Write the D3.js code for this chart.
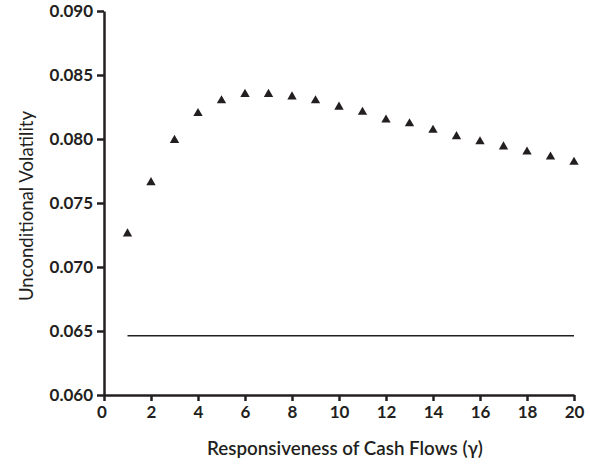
<!DOCTYPE html>
<html>
<head>
<meta charset="utf-8">
<script src="https://cdn.jsdelivr.net/npm/d3@7"></script>
<style>
  body { margin: 0; background: #fff; }
  svg { display: block; }
</style>
</head>
<body>
<svg id="chart" width="590" height="464"></svg>
<script>
// Responsiveness of cash flows (gamma)
var gammas = [1, 2, 3, 4, 5, 6, 7, 8, 9, 10, 11, 12, 13, 14, 15, 16, 17, 18, 19, 20];
// Unconditional volatility, triangles
var volatility = [0.0726, 0.0766, 0.0799, 0.0820, 0.0830, 0.0835, 0.0835, 0.0833, 0.0830, 0.0825,
                  0.0821, 0.0815, 0.0812, 0.0807, 0.0802, 0.0798, 0.0794, 0.0790, 0.0786, 0.0782];
// Flat benchmark line
var benchmarkX = [1, 20];
var benchmarkY = [0.06463, 0.06463];

var xTicks = [0, 2, 4, 6, 8, 10, 12, 14, 16, 18, 20];
var yTicks = [0.060, 0.065, 0.070, 0.075, 0.080, 0.085, 0.090];

var svg = d3.select("#chart");
var ink = "#231f20";

var x = d3.scaleLinear().domain([0, 20]).range([104, 574]);
var y = d3.scaleLinear().domain([0.060, 0.090]).range([395, 11]);

// Axes
var xAxis = svg.append("g")
    .attr("transform", "translate(0," + y(0.060) + ")")
    .call(d3.axisBottom(x).tickValues(xTicks).tickSize(6).tickSizeOuter(0).tickPadding(3));

var yAxis = svg.append("g")
    .attr("transform", "translate(" + x(0) + ",0)")
    .call(d3.axisLeft(y).tickValues(yTicks).tickFormat(d3.format(".3f")).tickSize(7).tickSizeOuter(0).tickPadding(4));

[xAxis, yAxis].forEach(function (g) {
    g.select(".domain").attr("stroke", ink).attr("stroke-width", 2.5);
    g.selectAll(".tick line").attr("stroke", ink).attr("stroke-width", 2.5);
    g.selectAll(".tick text")
        .attr("fill", ink)
        .style("font-family", "Lato")
        .style("font-weight", "bold")
        .style("font-size", "17px");
});
xAxis.selectAll(".tick text").attr("dy", "0.85em");
xAxis.select(".tick text").attr("dx", "-0.15em");

// Benchmark line
var line = d3.line()
    .x(function (d) { return x(d[0]); })
    .y(function (d) { return y(d[1]); });

svg.append("path")
    .datum(d3.zip(benchmarkX, benchmarkY))
    .attr("d", line)
    .attr("fill", "none")
    .attr("stroke", ink)
    .attr("stroke-width", 1.6);

// Triangles
var tri = d3.symbol().type(d3.symbolTriangle).size(38);
svg.append("g")
    .selectAll("path")
    .data(d3.zip(gammas, volatility))
    .join("path")
    .attr("d", tri)
    .attr("transform", function (d) { return "translate(" + x(d[0]) + "," + y(d[1]) + ")"; })
    .attr("fill", ink);

// Axis titles
svg.append("text")
    .attr("x", 345)
    .attr("y", 455)
    .attr("text-anchor", "middle")
    .attr("fill", ink)
    .style("font-family", "Lato")
    .style("font-weight", "600")
    .style("font-size", "18.8px")
    .text("Responsiveness of Cash Flows (γ)");

svg.append("text")
    .attr("transform", "translate(33,206) rotate(-90)")
    .attr("text-anchor", "middle")
    .attr("fill", ink)
    .style("font-family", "Lato")
    .style("font-size", "18.6px")
    .text("Unconditional Volatility");
</script>
</body>
</html>
